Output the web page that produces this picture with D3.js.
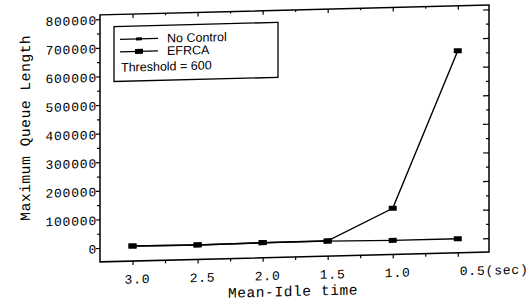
<!DOCTYPE html>
<html>
<head>
<meta charset="utf-8">
<script src="https://cdn.jsdelivr.net/npm/d3@7"></script>
<style>
  body { margin: 0; background: #fff; }
  .tickText { font-family: "Liberation Mono", "DejaVu Sans Mono", monospace; font-size: 13px; letter-spacing: 0.8px; fill: #000; }
  .axisText { font-family: "Liberation Mono", "DejaVu Sans Mono", monospace; font-size: 14.5px; letter-spacing: 0.6px; fill: #000; }
  .legendText { font-family: "Liberation Sans", Arial, sans-serif; font-size: 12.5px; fill: #000; }
</style>
</head>
<body>
<div id="chart"></div>
<script>
// data
var idleTimes = [3.0, 2.5, 2.0, 1.5, 1.0, 0.5];
var xTickLabels = ["3.0", "2.5", "2.0", "1.5", "1.0", "0.5(sec)"];
var noControl = [4000, 2000, 4000, 5000, 113000, 658000];
var efrca = [4000, 2000, 4000, 4000, 600, 600];
var yTicks = [0, 100000, 200000, 300000, 400000, 500000, 600000, 700000, 800000];
var yMinor = [50000, 150000, 250000, 350000, 450000, 550000, 650000, 750000];
var xMinor = [2.75, 2.25, 1.75, 1.25, 0.75];
var seriesNames = ["No Control", "EFRCA"];

var svgWidth = 530;
var svgHeight = 304;

var margin = { top: 10, right: 41, bottom: 47, left: 100 };
var width = svgWidth - margin.left - margin.right;
var height = svgHeight - margin.top - margin.bottom;

var svg = d3.select("#chart")
  .append("svg")
  .attr("width", svgWidth)
  .attr("height", svgHeight);

// the scan is a little tilted
var page = svg.append("g")
  .attr("transform", "translate(293,134) skewY(-1.45) translate(-293,-134)");

var chartGroup = page.append("g")
  .attr("transform", `translate(${margin.left}, ${margin.top})`);

var xScale = d3.scaleLinear().domain([3.25, 0.26]).range([0, width]);
var yScale = d3.scaleLinear().domain([-48600, 815000]).range([height, 0]);

function styleAxis(g) {
  g.select(".domain").remove();
  g.selectAll("line").attr("stroke", "#000").attr("stroke-width", 1.2);
}

// bottom axis (outward ticks)
chartGroup.append("g")
  .attr("transform", `translate(0, ${height})`)
  .call(d3.axisBottom(xScale).tickValues(idleTimes).tickSize(4).tickFormat(""))
  .call(styleAxis);
chartGroup.append("g")
  .attr("transform", `translate(0, ${height})`)
  .call(d3.axisBottom(xScale).tickValues(xMinor).tickSize(3).tickFormat(""))
  .call(styleAxis);
// top axis (inward ticks)
chartGroup.append("g")
  .call(d3.axisBottom(xScale).tickValues(idleTimes).tickSize(4).tickFormat(""))
  .call(styleAxis);
chartGroup.append("g")
  .call(d3.axisBottom(xScale).tickValues(xMinor).tickSize(2).tickFormat(""))
  .call(styleAxis);
// left axis
chartGroup.append("g")
  .call(d3.axisLeft(yScale).tickValues(yTicks).tickSize(4).tickFormat(""))
  .call(styleAxis);
chartGroup.append("g")
  .call(d3.axisLeft(yScale).tickValues(yMinor).tickSize(3).tickFormat(""))
  .call(styleAxis);
// right axis (inward ticks)
chartGroup.append("g")
  .attr("transform", `translate(${width}, 0)`)
  .call(d3.axisLeft(yScale).tickValues(yTicks).tickSize(6).tickFormat(""))
  .call(styleAxis);
chartGroup.append("g")
  .attr("transform", `translate(${width}, 0)`)
  .call(d3.axisLeft(yScale).tickValues(yMinor).tickSize(3).tickFormat(""))
  .call(styleAxis);

// tick labels
chartGroup.selectAll(".ylab")
  .data(yTicks)
  .enter()
  .append("text")
  .attr("class", "tickText")
  .attr("x", -3)
  .attr("y", d => yScale(d) + 1)
  .attr("dy", "0.35em")
  .attr("text-anchor", "end")
  .text(d => d);

chartGroup.selectAll(".xlab")
  .data(idleTimes)
  .enter()
  .append("text")
  .attr("class", "tickText")
  .attr("x", (d, i) => i == idleTimes.length - 1 ? xScale(d) + 2 : xScale(d) + 5)
  .attr("y", height + 18)
  .attr("dy", "0.35em")
  .attr("text-anchor", (d, i) => i == idleTimes.length - 1 ? "start" : "middle")
  .text((d, i) => xTickLabels[i]);

// frame
chartGroup.append("rect")
  .attr("width", width)
  .attr("height", height)
  .attr("fill", "none")
  .attr("stroke", "#000")
  .attr("stroke-width", 1.5);

// lines
var line = d3.line()
  .x((d, i) => xScale(idleTimes[i]))
  .y(d => yScale(d));

chartGroup.append("path")
  .datum(efrca)
  .attr("d", line)
  .attr("fill", "none")
  .attr("stroke", "#000")
  .attr("stroke-width", 1.4);

chartGroup.append("path")
  .datum(noControl)
  .attr("d", line)
  .attr("fill", "none")
  .attr("stroke", "#000")
  .attr("stroke-width", 1.4);

chartGroup.selectAll(".mEfrca")
  .data(efrca)
  .enter()
  .append("rect")
  .attr("x", (d, i) => xScale(idleTimes[i]) - 4)
  .attr("y", d => yScale(d) - 2.5)
  .attr("width", 8)
  .attr("height", 5)
  .attr("fill", "#000");

chartGroup.selectAll(".mNo")
  .data(noControl)
  .enter()
  .append("rect")
  .attr("x", (d, i) => xScale(idleTimes[i]) - 4)
  .attr("y", d => yScale(d) - 2.5)
  .attr("width", 8)
  .attr("height", 5)
  .attr("fill", "#000");

// legend
var legend = page.append("g");
legend.append("rect")
  .attr("x", 114)
  .attr("y", 22)
  .attr("width", 164)
  .attr("height", 55)
  .attr("fill", "#fff")
  .attr("stroke", "#000")
  .attr("stroke-width", 1.3);

var legendY = [35, 47.5];
seriesNames.forEach(function(name, i) {
  legend.append("line")
    .attr("x1", 120).attr("x2", 158)
    .attr("y1", legendY[i]).attr("y2", legendY[i])
    .attr("stroke", "#000")
    .attr("stroke-width", 1.3);
  legend.append("rect")
    .attr("x", i == 0 ? 136 : 135)
    .attr("y", legendY[i] - (i == 0 ? 1.5 : 2.5))
    .attr("width", i == 0 ? 6 : 8)
    .attr("height", i == 0 ? 3 : 5)
    .attr("fill", "#000");
  legend.append("text")
    .attr("class", "legendText")
    .attr("x", 167)
    .attr("y", legendY[i])
    .attr("dy", "0.35em")
    .text(name);
});
legend.append("text")
  .attr("class", "legendText")
  .attr("x", 121)
  .attr("y", 63)
  .attr("dy", "0.35em")
  .text("Threshold = 600");

// axis titles
page.append("text")
  .attr("class", "axisText")
  .attr("x", 293)
  .attr("y", 291)
  .attr("dy", "0.35em")
  .attr("text-anchor", "middle")
  .text("Mean-Idle time");

page.append("text")
  .attr("class", "axisText")
  .attr("transform", "translate(25, 121) rotate(-90)")
  .attr("dy", "0.35em")
  .attr("text-anchor", "middle")
  .text("Maximum Queue Length");
</script>
</body>
</html>
